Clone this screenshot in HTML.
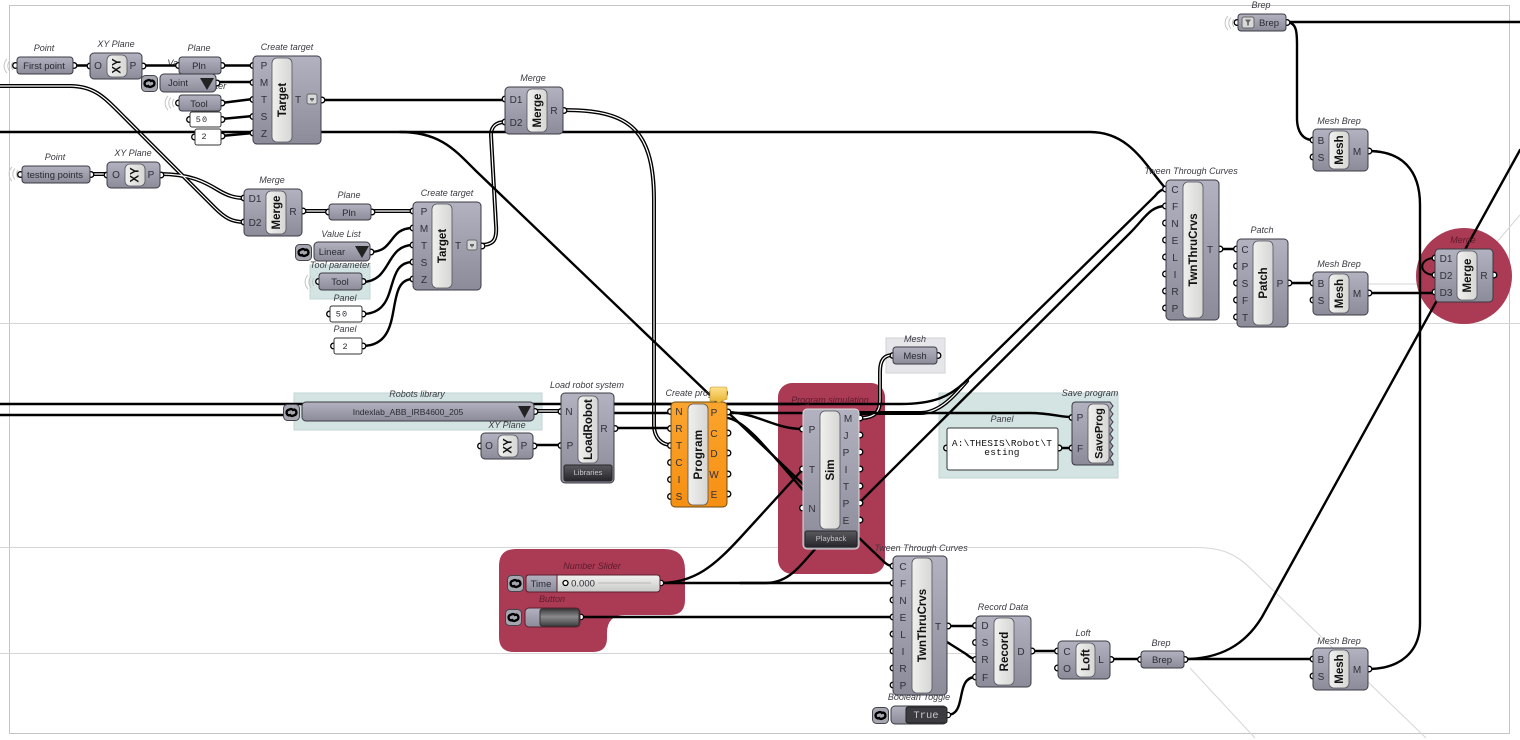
<!DOCTYPE html>
<html><head><meta charset="utf-8"><title>Grasshopper definition</title>
<style>
html,body{margin:0;padding:0;background:#fff;width:1520px;height:740px;overflow:hidden}
svg{display:block}
text{font-family:"Liberation Sans",sans-serif;text-anchor:middle;fill:#26262c}
.l{font-size:9px;font-style:italic;fill:#3a3a42}
.t{font-size:9.5px;fill:#2a2a32}
.i{font-size:10px;fill:#30303a}
.n{font-size:11.5px;font-weight:bold;fill:#111}
.b{fill:url(#g);stroke:#3b3b44;stroke-width:1}
.o{fill:url(#og);stroke:#6a4a10;stroke-width:1}
.c{fill:url(#cg);stroke:#55555c;stroke-width:.8}
.w{fill:#fff;stroke:#333;stroke-width:1}
.k{fill:none;stroke:#000;stroke-width:2.4;stroke-linecap:round}
.d1{fill:none;stroke:#000;stroke-width:4;stroke-linecap:round}
.d2{fill:none;stroke:#fff;stroke-width:1.2;stroke-linecap:round}
.f{fill:none;stroke:#d6d6d6;stroke-width:1}
.p circle{fill:#fff;stroke:#000;stroke-width:1.3}
.dk{fill:url(#dg);stroke:#26262a;stroke-width:1}
.dt{font-size:7.5px;fill:#c8c8cc}
</style></head><body>
<svg width="1520" height="740" viewBox="0 0 1520 740" xmlns="http://www.w3.org/2000/svg">
<defs>
<linearGradient id="g" x1="0" y1="0" x2="0" y2="1"><stop offset="0" stop-color="#b2b2c0"/><stop offset="1" stop-color="#8b8b99"/></linearGradient>
<linearGradient id="og" x1="0" y1="0" x2="0" y2="1"><stop offset="0" stop-color="#fba52e"/><stop offset="1" stop-color="#f68f12"/></linearGradient>
<linearGradient id="cg" x1="0" y1="0" x2="1" y2="0"><stop offset="0" stop-color="#f0f0ee"/><stop offset="1" stop-color="#d6d6d4"/></linearGradient>
<linearGradient id="dg" x1="0" y1="0" x2="0" y2="1"><stop offset="0" stop-color="#5a5a5e"/><stop offset="1" stop-color="#26262a"/></linearGradient>
<linearGradient id="bt" x1="0" y1="0" x2="0" y2="1"><stop offset="0" stop-color="#3c3c3e"/><stop offset=".45" stop-color="#8a8a8c"/><stop offset="1" stop-color="#404042"/></linearGradient>
<linearGradient id="sl" x1="0" y1="0" x2="0" y2="1"><stop offset="0" stop-color="#f2f2f0"/><stop offset="1" stop-color="#c8c8c8"/></linearGradient>
<linearGradient id="ye" x1="0" y1="0" x2="0" y2="1"><stop offset="0" stop-color="#fde28a"/><stop offset="1" stop-color="#e8b030"/></linearGradient>
<symbol id="lk" width="17" height="17" viewBox="0 0 17 17" overflow="visible"><rect x=".5" y=".5" width="16" height="16" rx="4" fill="#a6a6b0" stroke="#44444c"/><path d="M6.500 11.500H6a3 3 0 0 1-1-5.500L7.500 5a3 3 0 0 1 3 2M10.500 5.500h.5a3 3 0 0 1 1 5.500L9.500 12a3 3 0 0 1-3-2" fill="none" stroke="#000" stroke-width="2.300"/></symbol>
<symbol id="gr" width="10" height="18" viewBox="0 0 10 18" overflow="visible"><path d="M2 2a10 10 0 0 0 0 14M5 3.500a8 8 0 0 0 0 11M8 5a6 6 0 0 0 0 8" fill="none" stroke="#c4c4c4" stroke-width="1"/></symbol>
</defs>

<!-- canvas background lines -->
<rect x="9.500" y="5.500" width="1500" height="728" fill="none" stroke="#c4c4c4" stroke-width="1"/>
<path class="f" d="M0 323.500H1520"/>
<path class="f" d="M0 547.500H1195C1220 547.500 1235 553 1250 568L1426 738"/>
<path class="f" d="M0 653.500H1060M1190 668L1255 738"/>
<path class="f" d="M1290 284H1420M1490 250L1520 215"/>

<!-- groups -->
<rect x="294" y="393" width="248" height="37" fill="#d3e4e2" stroke="#c2d6d4"/>
<rect x="310" y="265" width="60" height="34" fill="#d3e4e2" stroke="#c2d6d4"/>
<rect x="939" y="393" width="179" height="85" fill="#d3e4e2" stroke="#c2d6d4"/>
<rect x="886" y="338" width="59" height="35" fill="#e6e6ea" stroke="#d0d0d6"/>
<rect x="778" y="383" width="107" height="191" rx="14" fill="#ab3a55"/>
<path d="M516 549H664Q685 549 685 570V600Q685 615 670 615H625Q607 615 607 633V638Q607 652 593 652H514Q499 652 499 637V566Q499 549 516 549Z" fill="#ab3a55"/>
<circle cx="1464" cy="276" r="48" fill="#ab3a55"/>

<!-- hidden labels -->
<text class="l" x="187" y="66">Value List</text>
<text class="l" x="196" y="89">Tool parameter</text>

<!-- double wires -->
<g class="d1">
<path d="M0 86H70C95 86 105 98 125 118L215 208C225 218 232 222 244 222"/>
<path d="M160 174C190 174 205 182 218 190C228 196 235 198 244 198"/>
<path d="M90 174H107"/><path d="M302 211H329"/><path d="M371 211H413"/>
<path d="M481 245C495 245 497 238 496 225L491 135C491 126 497 122 505 122"/>
<path d="M563 110C625 110 654 125 654 200V425C654 438 662 445 671 445"/>
<path d="M534 411H561"/>
<path d="M859 418C875 418 880 412 880 400V372C880 360 884 355 893 355"/>
<path d="M859 413H920C940 413 955 395 967 381"/>
</g>
<g class="d2">
<path d="M0 86H70C95 86 105 98 125 118L215 208C225 218 232 222 244 222"/>
<path d="M160 174C190 174 205 182 218 190C228 196 235 198 244 198"/>
<path d="M90 174H107"/><path d="M302 211H329"/><path d="M371 211H413"/>
<path d="M481 245C495 245 497 238 496 225L491 135C491 126 497 122 505 122"/>
<path d="M563 110C625 110 654 125 654 200V425C654 438 662 445 671 445"/>
<path d="M534 411H561"/>
<path d="M859 418C875 418 880 412 880 400V372C880 360 884 355 893 355"/>
<path d="M859 413H920C940 413 955 395 967 381"/>
</g>

<!-- single wires -->
<g class="k">
<path d="M73 65.500H90M142 65.500H179M221 65.500H253M216 82H253M221 103L253 99M221 119L253 116M221 136L253 133"/>
<path d="M321 100H505"/>
<path d="M0 132H1090C1130 132 1145 165 1166 189"/>
<path d="M400 132C440 132 455 150 475 170L880 558C885 563 888 566 893 566"/>
<path d="M370 252C395 252 388 228 413 228"/>
<path d="M362 282C392 282 385 245 413 245"/>
<path d="M362 314C402 314 382 262 413 262"/>
<path d="M362 346C408 346 382 279 413 279"/>
<path d="M0 404H900C935 404 950 396 965 382L1155 196C1158 192 1162 189 1166 189"/>
<path d="M0 415H283"/>
<path d="M614 404H671M727 404H800M614 413H671"/>
<path d="M727 413H1030C1050 413 1060 417 1072 417"/>
<path d="M728 412C760 414 775 429 803 429"/>
<path d="M728 418C745 422 760 440 803 490"/>
<path d="M533 445H561M614 428H671"/>
<path d="M859 503L1130 233C1145 218 1150 206 1166 206"/>
<path d="M660 583C695 583 715 565 740 538L803 469"/>
<path d="M660 583H893"/>
<path d="M740 583H765C790 583 800 565 818 546"/>
<path d="M580 617H893"/>
<path d="M1058 448H1072"/>
<path d="M947 626H976"/>
<path d="M947 642L966 654C970 657 972 659 976 659"/>
<path d="M947 715C968 715 954 677 976 677"/>
<path d="M1031 651H1058M1110 659H1141M1184 659H1313"/>
<path d="M1219 249H1237M1288 283H1313M1368 293H1435"/>
<path d="M1184 659C1220 659 1245 645 1262 617L1277 590L1520 150"/>
<path d="M1286 22H1520"/>
<path d="M1286 22C1298 22 1297 35 1297 50V118C1297 132 1303 140 1313 140"/>
<path d="M1368 151C1402 151 1420 170 1420 205V623C1420 652 1400 669 1368 669"/>
<path d="M1435 258C1418 258 1418 275 1435 275" stroke-width="2"/>
</g>

<!-- grips -->
<use href="#gr" x="5" y="57"/><use href="#gr" x="10" y="165"/><use href="#gr" x="166" y="94"/><use href="#gr" x="306" y="273"/><use href="#gr" x="1226" y="14"/>

<!-- labels -->
<text class="l" x="44" y="51">Point</text>
<text class="l" x="116" y="47">XY Plane</text>
<text class="l" x="199" y="51">Plane</text>
<text class="l" x="287" y="50">Create target</text>
<text class="l" x="55" y="160">Point</text>
<text class="l" x="133" y="156">XY Plane</text>
<text class="l" x="272" y="183">Merge</text>
<text class="l" x="349" y="198">Plane</text>
<text class="l" x="447" y="196">Create target</text>
<text class="l" x="341" y="237">Value List</text>
<text class="l" x="340" y="268">Tool parameter</text>
<text class="l" x="345" y="301">Panel</text>
<text class="l" x="345" y="332">Panel</text>
<text class="l" x="533" y="81">Merge</text>
<text class="l" x="417" y="397">Robots library</text>
<text class="l" x="507" y="428">XY Plane</text>
<text class="l" x="587" y="388">Load robot system</text>
<text class="l" x="697" y="396">Create program</text>
<text class="l" x="830" y="403" style="fill:#5c1c2c">Program simulation</text>
<text class="l" x="915" y="342">Mesh</text>
<text class="l" x="1090" y="396">Save program</text>
<text class="l" x="1002" y="422">Panel</text>
<text class="l" x="592" y="569" style="fill:#5c1c2c">Number Slider</text>
<text class="l" x="552" y="602" style="fill:#5c1c2c">Button</text>
<text class="l" x="921" y="551">Tween Through Curves</text>
<text class="l" x="1003" y="610">Record Data</text>
<text class="l" x="1083" y="636">Loft</text>
<text class="l" x="1161" y="646">Brep</text>
<text class="l" x="919" y="700">Boolean Toggle</text>
<text class="l" x="1339" y="644">Mesh Brep</text>
<text class="l" x="1261" y="8">Brep</text>
<text class="l" x="1339" y="124">Mesh Brep</text>
<text class="l" x="1339" y="267">Mesh Brep</text>
<text class="l" x="1191" y="174">Tween Through Curves</text>
<text class="l" x="1262" y="233">Patch</text>
<text class="l" x="1463" y="243" style="fill:#5c1c2c">Merge</text>

<!-- ports (drawn under node bodies, so only the outer half shows) -->
<g class="p">
<circle cx="15.500" cy="65.500" r="2.800"/><circle cx="74" cy="65.500" r="2.800"/><circle cx="90" cy="66" r="2.800"/><circle cx="143" cy="66" r="2.800"/>
<circle cx="178.500" cy="65.500" r="2.800"/><circle cx="222" cy="65.500" r="2.800"/><circle cx="217" cy="83" r="2.800"/>
<circle cx="178.500" cy="103" r="2.800"/><circle cx="222" cy="103" r="2.800"/>
<circle cx="189.500" cy="119.500" r="2.800"/><circle cx="222" cy="119.500" r="2.800"/><circle cx="194.500" cy="137" r="2.800"/><circle cx="222" cy="136" r="2.800"/>
<circle cx="253" cy="65.500" r="2.800"/><circle cx="253" cy="82.500" r="2.800"/><circle cx="253" cy="99.500" r="2.800"/><circle cx="253" cy="116.500" r="2.800"/><circle cx="253" cy="133" r="2.800"/><circle cx="322" cy="100" r="2.800"/>
<circle cx="20.500" cy="174.500" r="2.800"/><circle cx="91" cy="174.500" r="2.800"/><circle cx="107" cy="175" r="2.800"/><circle cx="161" cy="175" r="2.800"/>
<circle cx="244" cy="198" r="2.800"/><circle cx="244" cy="222" r="2.800"/><circle cx="303" cy="211" r="2.800"/>
<circle cx="328.500" cy="212" r="2.800"/><circle cx="372" cy="212" r="2.800"/>
<circle cx="413" cy="211" r="2.800"/><circle cx="413" cy="228" r="2.800"/><circle cx="413" cy="245" r="2.800"/><circle cx="413" cy="262" r="2.800"/><circle cx="413" cy="279" r="2.800"/><circle cx="482" cy="246" r="2.800"/>
<circle cx="371" cy="252" r="2.800"/><circle cx="318.500" cy="281.500" r="2.800"/><circle cx="363" cy="281.500" r="2.800"/>
<circle cx="329.500" cy="314" r="2.800"/><circle cx="363" cy="314" r="2.800"/><circle cx="333.500" cy="346" r="2.800"/><circle cx="363" cy="346" r="2.800"/>
<circle cx="505" cy="99" r="2.800"/><circle cx="505" cy="122" r="2.800"/><circle cx="564" cy="110.500" r="2.800"/>
<circle cx="535" cy="411.500" r="2.800"/><circle cx="480.500" cy="446" r="2.800"/><circle cx="534" cy="446" r="2.800"/>
<circle cx="561" cy="411.500" r="2.800"/><circle cx="561" cy="445.500" r="2.800"/><circle cx="615" cy="428.500" r="2.800"/>
<circle cx="670.500" cy="411.500" r="2.800"/><circle cx="670.500" cy="428.500" r="2.800"/><circle cx="670.500" cy="445.500" r="2.800"/><circle cx="670.500" cy="462.500" r="2.800"/><circle cx="670.500" cy="479.500" r="2.800"/><circle cx="670.500" cy="496.500" r="2.800"/>
<circle cx="728" cy="412" r="2.800"/><circle cx="728" cy="433" r="2.800"/><circle cx="728" cy="453" r="2.800"/><circle cx="728" cy="474" r="2.800"/><circle cx="728" cy="494" r="2.800"/>
<circle cx="802.500" cy="429" r="2.800"/><circle cx="802.500" cy="469" r="2.800"/><circle cx="802.500" cy="508" r="2.800"/>
<circle cx="860" cy="418" r="2.800"/><circle cx="860" cy="435" r="2.800"/><circle cx="860" cy="452" r="2.800"/><circle cx="860" cy="469" r="2.800"/><circle cx="860" cy="486" r="2.800"/><circle cx="860" cy="503" r="2.800"/><circle cx="860" cy="520" r="2.800"/>
<circle cx="893" cy="355.500" r="2.800"/><circle cx="938" cy="355.500" r="2.800"/>
<circle cx="946.500" cy="448" r="2.800"/><circle cx="1059" cy="448" r="2.800"/><circle cx="1072" cy="417.500" r="2.800"/><circle cx="1072" cy="448" r="2.800"/>
<circle cx="661" cy="583" r="2.600"/><circle cx="581" cy="617" r="2.600"/>
<circle cx="893" cy="566" r="2.800"/><circle cx="893" cy="583" r="2.800"/><circle cx="893" cy="600" r="2.800"/><circle cx="893" cy="617" r="2.800"/><circle cx="893" cy="634" r="2.800"/><circle cx="893" cy="651" r="2.800"/><circle cx="893" cy="668" r="2.800"/><circle cx="893" cy="685" r="2.800"/><circle cx="948" cy="626" r="2.800"/>
<circle cx="975.500" cy="625.500" r="2.800"/><circle cx="975.500" cy="642.500" r="2.800"/><circle cx="975.500" cy="659.500" r="2.800"/><circle cx="975.500" cy="677" r="2.800"/><circle cx="1032" cy="651" r="2.800"/>
<circle cx="1057.500" cy="651" r="2.800"/><circle cx="1057.500" cy="668" r="2.800"/><circle cx="1111" cy="659.500" r="2.800"/>
<circle cx="1140.500" cy="659.500" r="2.800"/><circle cx="1185" cy="659.500" r="2.800"/><circle cx="948" cy="715" r="2.600"/>
<circle cx="1313" cy="659" r="2.800"/><circle cx="1313" cy="676" r="2.800"/><circle cx="1369" cy="669" r="2.800"/>
<circle cx="1313" cy="140" r="2.800"/><circle cx="1313" cy="157" r="2.800"/><circle cx="1369" cy="151" r="2.800"/>
<circle cx="1313" cy="283" r="2.800"/><circle cx="1313" cy="300" r="2.800"/><circle cx="1369" cy="293" r="2.800"/>
<circle cx="1237" cy="22.500" r="2.800"/><circle cx="1287" cy="22.500" r="2.800"/>
<circle cx="1165.500" cy="189" r="2.800"/><circle cx="1165.500" cy="206" r="2.800"/><circle cx="1165.500" cy="223" r="2.800"/><circle cx="1165.500" cy="240" r="2.800"/><circle cx="1165.500" cy="257" r="2.800"/><circle cx="1165.500" cy="274" r="2.800"/><circle cx="1165.500" cy="291" r="2.800"/><circle cx="1165.500" cy="308" r="2.800"/><circle cx="1220" cy="249" r="2.800"/>
<circle cx="1236.500" cy="249" r="2.800"/><circle cx="1236.500" cy="266" r="2.800"/><circle cx="1236.500" cy="283" r="2.800"/><circle cx="1236.500" cy="300" r="2.800"/><circle cx="1236.500" cy="317" r="2.800"/><circle cx="1289" cy="283" r="2.800"/>
<circle cx="1435" cy="258" r="2.800"/><circle cx="1435" cy="275" r="2.800"/><circle cx="1435" cy="292" r="2.800"/><circle cx="1494" cy="275" r="2.800"/>
</g>

<!-- First point -->
<rect class="b" x="17" y="57" width="56" height="17" rx="3"/><text class="t" x="44" y="69">First point</text>
<!-- XY -->
<rect class="b" x="90" y="53" width="52" height="26" rx="4"/><rect class="c" x="107" y="55" width="20" height="22" rx="5"/><text class="n" transform="translate(120.500,66) rotate(-90)">XY</text><text class="i" x="98" y="69">O</text><text class="i" x="133" y="69">P</text>
<!-- Pln -->
<rect class="b" x="179" y="57" width="42" height="17" rx="3"/><text class="t" x="199" y="69">Pln</text>
<!-- Joint -->
<use href="#lk" x="141" y="75"/>
<rect class="b" x="160" y="74" width="56" height="18" rx="4"/><text class="t" x="178" y="86">Joint</text><path d="M200 78H214L207 90Z" fill="#222"/>
<!-- Tool -->
<rect class="b" x="179" y="95" width="42" height="16" rx="3"/><text class="t" x="199" y="107">Tool</text>
<!-- panels -->
<rect class="w" x="190" y="112" width="31" height="15" rx="2"/><text class="t" x="202" y="122" style="font-size:8.500px;font-family:'Liberation Mono',monospace;letter-spacing:1.200px">50</text>
<rect class="w" x="195" y="129" width="26" height="16" rx="2"/><text class="t" x="204" y="139" style="font-size:8.500px;font-family:'Liberation Mono',monospace">2</text>
<!-- Create target 1 -->
<rect class="b" x="253" y="56" width="68" height="88" rx="4"/><rect class="c" x="272" y="58" width="20" height="84" rx="5"/><text class="n" transform="translate(286,100) rotate(-90)">Target</text>
<text class="i" x="264" y="69">P</text><text class="i" x="264" y="86">M</text><text class="i" x="264" y="103">T</text><text class="i" x="264" y="120">S</text><text class="i" x="264" y="137">Z</text><text class="i" x="298" y="103">T</text>
<rect x="307" y="94" width="10" height="10" rx="2" fill="#d8d8d8" stroke="#666"/><path d="M310 98h4v2h-1l-1 2-1-2h-1z" fill="#666"/>
<!-- testing points -->
<rect class="b" x="22" y="166" width="68" height="17" rx="3"/><text class="t" x="55" y="178">testing points</text>
<rect class="b" x="107" y="162" width="53" height="26" rx="4"/><rect class="c" x="125" y="164" width="20" height="22" rx="5"/><text class="n" transform="translate(138.500,175) rotate(-90)">XY</text><text class="i" x="116" y="178">O</text><text class="i" x="151" y="178">P</text>
<!-- Merge -->
<rect class="b" x="244" y="189" width="58" height="47" rx="4"/><rect class="c" x="266" y="191" width="20" height="43" rx="5"/><text class="n" transform="translate(280,212.500) rotate(-90)">Merge</text><text class="i" x="255" y="202">D1</text><text class="i" x="255" y="226">D2</text><text class="i" x="293" y="215">R</text>
<!-- Pln 2 -->
<rect class="b" x="329" y="204" width="42" height="16" rx="3"/><text class="t" x="349" y="216">Pln</text>
<!-- Create target 2 -->
<rect class="b" x="413" y="202" width="68" height="88" rx="4"/><rect class="c" x="432" y="204" width="20" height="84" rx="5"/><text class="n" transform="translate(446,246) rotate(-90)">Target</text>
<text class="i" x="424" y="215">P</text><text class="i" x="424" y="232">M</text><text class="i" x="424" y="249">T</text><text class="i" x="424" y="266">S</text><text class="i" x="424" y="283">Z</text><text class="i" x="458" y="249">T</text>
<rect x="467" y="240" width="10" height="10" rx="2" fill="#d8d8d8" stroke="#666"/><path d="M470 244h4v2h-1l-1 2-1-2h-1z" fill="#666"/>
<!-- Linear -->
<use href="#lk" x="295" y="244"/><rect class="b" x="314" y="242" width="56" height="19" rx="4"/><text class="t" x="332" y="255">Linear</text><path d="M355 246H369L362 258Z" fill="#222"/>
<!-- Tool 2 -->
<rect class="b" x="319" y="273" width="43" height="17" rx="3"/><text class="t" x="340" y="285">Tool</text>
<!-- Panels 2 -->
<rect class="w" x="330" y="306" width="32" height="16" rx="2"/><text class="t" x="342" y="316.500" style="font-size:8.500px;font-family:'Liberation Mono',monospace;letter-spacing:1.200px">50</text>
<rect class="w" x="334" y="338" width="28" height="16" rx="2"/><text class="t" x="345" y="349" style="font-size:8.500px;font-family:'Liberation Mono',monospace">2</text>
<!-- Merge top -->
<rect class="b" x="505" y="87" width="58" height="47" rx="4"/><rect class="c" x="527" y="89" width="20" height="43" rx="5"/><text class="n" transform="translate(541,110.500) rotate(-90)">Merge</text><text class="i" x="516" y="103">D1</text><text class="i" x="516" y="126">D2</text><text class="i" x="554" y="114">R</text>
<!-- Robots library -->
<use href="#lk" x="283" y="404"/><rect class="b" x="302" y="402" width="232" height="19" rx="4"/><text class="t" x="408" y="415" style="font-size:8.500px">Indexlab_ABB_IRB4600_205</text><path d="M518 406H531L524.500 418Z" fill="#222"/>
<!-- XY lower -->
<rect class="b" x="481" y="433" width="52" height="26" rx="4"/><rect class="c" x="498" y="435" width="20" height="22" rx="5"/><text class="n" transform="translate(511.500,446) rotate(-90)">XY</text><text class="i" x="489" y="449">O</text><text class="i" x="524" y="449">P</text>
<!-- LoadRobot -->
<rect class="b" x="561" y="393" width="53" height="90" rx="4"/><rect class="c" x="578" y="396" width="20" height="67" rx="5"/><text class="n" transform="translate(592,429.500) rotate(-90)">LoadRobot</text><text class="i" x="569" y="415">N</text><text class="i" x="570" y="449">P</text><text class="i" x="604" y="432">R</text>
<rect class="dk" x="564" y="465" width="48" height="16" rx="2"/><text class="dt" x="588" y="475">Libraries</text>
<!-- Program -->
<rect class="o" x="671" y="402" width="56" height="105" rx="4"/><rect class="c" x="688" y="404" width="20" height="101" rx="5"/><text class="n" transform="translate(702,454.500) rotate(-90)" style="letter-spacing:.4px">Program</text>
<text class="i" x="679" y="415">N</text><text class="i" x="679" y="432">R</text><text class="i" x="679" y="449">T</text><text class="i" x="679" y="466">C</text><text class="i" x="679" y="483">I</text><text class="i" x="679" y="500">S</text>
<text class="i" x="714" y="416">P</text><text class="i" x="714" y="437">C</text><text class="i" x="714" y="457">D</text><text class="i" x="714" y="478">W</text><text class="i" x="714" y="498">E</text>
<path d="M712 387H725Q727 387 727 389V399L722 401L719 403L716 401H710V389Q710 387 712 387Z" fill="url(#ye)" stroke="#c09020" stroke-width=".6"/>
<!-- Sim -->
<rect class="b" x="803" y="409" width="56" height="140" rx="4" style="stroke:#ddd"/><rect class="c" x="820" y="411" width="20" height="118" rx="5"/><text class="n" transform="translate(834,470) rotate(-90)">Sim</text>
<text class="i" x="812" y="433">P</text><text class="i" x="812" y="473">T</text><text class="i" x="812" y="512">N</text>
<text class="i" x="848" y="422">M</text><text class="i" x="846" y="439">J</text><text class="i" x="846" y="456">P</text><text class="i" x="846" y="473">I</text><text class="i" x="846" y="490">T</text><text class="i" x="846" y="507">P</text><text class="i" x="846" y="524">E</text>
<rect class="dk" x="805" y="531" width="52" height="16" rx="2"/><text class="dt" x="831" y="541">Playback</text>
<!-- Mesh param -->
<rect class="b" x="893" y="347" width="44" height="17" rx="3"/><text class="t" x="915" y="359">Mesh</text>
<!-- Panel -->
<rect class="w" x="947" y="428" width="111" height="42" rx="2"/>
<text x="1002" y="446" style="font-family:'Liberation Mono',monospace;font-size:9.500px;fill:#111;letter-spacing:.2px">A:\THESIS\Robot\T</text>
<text x="1002" y="455" style="font-family:'Liberation Mono',monospace;font-size:9.500px;fill:#111;letter-spacing:.2px">esting</text>
<!-- SaveProg -->
<path class="b" d="M1076 402H1110L1113 406L1110 410L1113 414L1110 418L1113 422L1110 426L1113 430L1110 434L1113 438L1110 442L1113 446L1110 450L1113 454L1110 458L1113 462V465H1076Q1072 465 1072 461V406Q1072 402 1076 402Z"/>
<rect class="c" x="1088" y="404" width="21" height="59" rx="5"/><text class="n" transform="translate(1102.500,433.500) rotate(-90)" style="font-size:11px">SaveProg</text><text class="i" x="1080" y="421">P</text><text class="i" x="1080" y="452">F</text>
<!-- Slider -->
<use href="#lk" x="507" y="575"/>
<rect x="526" y="575" width="134" height="17" rx="3" fill="url(#sl)" stroke="#5c2030"/><path d="M529 575H557V592H529Q526 592 526 589V578Q526 575 529 575Z" fill="url(#g)" stroke="#5c2030"/><text class="t" x="541" y="587">Time</text>
<circle cx="565.500" cy="583" r="2.500" fill="#fff" stroke="#000" stroke-width="1.300"/><text class="t" x="583" y="586.500">0.000</text><path d="M598 583H651" stroke="#aaa" stroke-width=".7" fill="none"/>
<!-- Button -->
<use href="#lk" x="505" y="609"/>
<rect x="525" y="608" width="55" height="19" rx="4" fill="url(#g)" stroke="#5c2030"/><rect x="540" y="609" width="39" height="17" rx="2" fill="url(#bt)" stroke="#333"/>
<!-- Twn lower -->
<rect class="b" x="893" y="556" width="54" height="139" rx="4"/><rect class="c" x="912" y="558" width="20" height="135" rx="5"/><text class="n" transform="translate(926,625.500) rotate(-90)">TwnThruCrvs</text>
<text class="i" x="903" y="570">C</text><text class="i" x="903" y="587">F</text><text class="i" x="903" y="604">N</text><text class="i" x="903" y="621">E</text><text class="i" x="903" y="638">L</text><text class="i" x="903" y="655">I</text><text class="i" x="903" y="672">R</text><text class="i" x="903" y="689">P</text><text class="i" x="938" y="630">T</text>
<!-- Record -->
<rect class="b" x="976" y="616" width="55" height="71" rx="4"/><rect class="c" x="994" y="618" width="20" height="67" rx="5"/><text class="n" transform="translate(1008,651.500) rotate(-90)">Record</text>
<text class="i" x="985" y="629">D</text><text class="i" x="985" y="646">S</text><text class="i" x="985" y="663">R</text><text class="i" x="985" y="681">F</text><text class="i" x="1021" y="655">D</text>
<!-- Loft -->
<rect class="b" x="1058" y="641" width="52" height="38" rx="4"/><rect class="c" x="1076" y="643" width="19" height="34" rx="5"/><text class="n" transform="translate(1089.500,660) rotate(-90)">Loft</text><text class="i" x="1067" y="655">C</text><text class="i" x="1067" y="672">O</text><text class="i" x="1101" y="663">L</text>
<!-- Brep -->
<rect class="b" x="1141" y="651" width="43" height="17" rx="3"/><text class="t" x="1162" y="663">Brep</text>
<!-- Toggle -->
<use href="#lk" x="872" y="707"/><rect class="b" x="891" y="706" width="56" height="18" rx="4"/><rect x="906" y="707" width="41" height="16" rx="2" fill="#3c3c40" stroke="#222"/><text x="926" y="718" style="font-family:'Liberation Mono',monospace;font-size:10.500px;fill:#c8c8c8">True</text>
<!-- Mesh Breps -->
<rect class="b" x="1313" y="648" width="55" height="42" rx="4"/><rect class="c" x="1329" y="650" width="20" height="38" rx="5"/><text class="n" transform="translate(1343,669) rotate(-90)">Mesh</text><text class="i" x="1321" y="663">B</text><text class="i" x="1321" y="680">S</text><text class="i" x="1357" y="673">M</text>
<rect class="b" x="1313" y="129" width="55" height="42" rx="4"/><rect class="c" x="1329" y="131" width="20" height="38" rx="5"/><text class="n" transform="translate(1343,150) rotate(-90)">Mesh</text><text class="i" x="1321" y="144">B</text><text class="i" x="1321" y="161">S</text><text class="i" x="1357" y="155">M</text>
<rect class="b" x="1313" y="272" width="55" height="43" rx="4"/><rect class="c" x="1329" y="274" width="20" height="39" rx="5"/><text class="n" transform="translate(1343,293.500) rotate(-90)">Mesh</text><text class="i" x="1321" y="287">B</text><text class="i" x="1321" y="304">S</text><text class="i" x="1357" y="297">M</text>
<!-- Top Brep -->
<rect class="b" x="1238" y="14" width="48" height="17" rx="3"/><rect x="1242" y="17" width="12" height="11" rx="2" fill="#d8d8d8" stroke="#666"/><path d="M1245 19.500h6l-2.200 3v3h-1.600v-3z" fill="#666"/><text class="t" x="1269" y="26">Brep</text>
<!-- Twn upper -->
<rect class="b" x="1166" y="180" width="53" height="140" rx="4"/><rect class="c" x="1183" y="182" width="20" height="136" rx="5"/><text class="n" transform="translate(1197,250) rotate(-90)">TwnThruCrvs</text>
<text class="i" x="1175" y="193">C</text><text class="i" x="1175" y="210">F</text><text class="i" x="1175" y="227">N</text><text class="i" x="1175" y="244">E</text><text class="i" x="1175" y="261">L</text><text class="i" x="1175" y="278">I</text><text class="i" x="1175" y="295">R</text><text class="i" x="1175" y="312">P</text><text class="i" x="1210" y="253">T</text>
<!-- Patch -->
<rect class="b" x="1237" y="239" width="51" height="88" rx="4"/><rect class="c" x="1253" y="241" width="20" height="84" rx="5"/><text class="n" transform="translate(1267,283) rotate(-90)">Patch</text>
<text class="i" x="1245" y="253">C</text><text class="i" x="1245" y="270">P</text><text class="i" x="1245" y="287">S</text><text class="i" x="1245" y="304">F</text><text class="i" x="1245" y="321">T</text><text class="i" x="1280" y="287">P</text>
<!-- Merge right -->
<rect class="b" x="1435" y="249" width="58" height="53" rx="4"/><rect class="c" x="1457" y="251" width="20" height="49" rx="5"/><text class="n" transform="translate(1471,275.500) rotate(-90)">Merge</text><text class="i" x="1446" y="262">D1</text><text class="i" x="1446" y="279">D2</text><text class="i" x="1446" y="296">D3</text><text class="i" x="1484" y="279">R</text>
</svg>
</body></html>
